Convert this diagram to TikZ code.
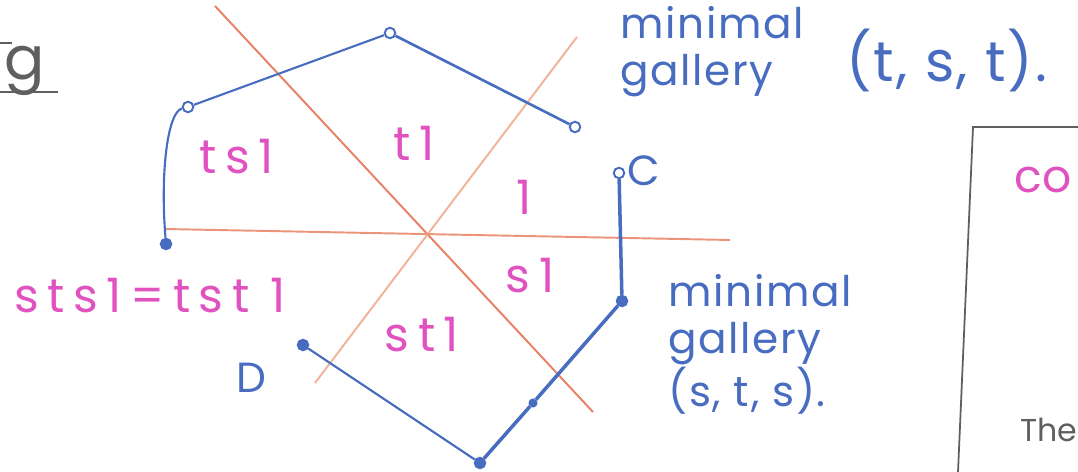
\documentclass[tikz,border=0pt]{standalone}
\usepackage{fontspec}
\setmainfont{Poppins}
\newfontfamily\roomfont[LetterSpace=18]{Poppins}
\newfontfamily\galfont[LetterSpace=4]{Poppins}
\usetikzlibrary{positioning}
\definecolor{wallor}{RGB}{232,128,100}
\definecolor{wallpe}{RGB}{243,178,150}
\definecolor{galblue}{RGB}{72,108,192}
\definecolor{roomcol}{RGB}{224,82,192}
\definecolor{pencil}{RGB}{95,95,95}

\begin{document}
\begin{tikzpicture}[x=0.02cm,y=-0.02cm,
  wall/.style={line width=1.1pt},
  gal/.style={draw=galblue,line width=1.2pt},
  vtx/.style={circle,draw=galblue,line width=1.1pt,fill=white,inner sep=0pt,minimum size=6pt},
  vtxf/.style={vtx,fill=galblue},
  room/.style={text=roomcol,font=\roomfont\fontsize{27}{29}\selectfont},
  note/.style={text=galblue,font=\galfont\fontsize{24}{27}\selectfont,align=left}]
  \clip (0,0) rectangle (1078,472);
  % walls of the Coxeter complex
  \coordinate (wa) at (215,6);
  \coordinate (wb) at (593,412);
  \coordinate (wc) at (577,37);
  \coordinate (wd) at (315,383);
  \coordinate (we) at (165,229);
  \coordinate (wf) at (730,240);
  \draw[wall,wallor] (wa) -- (wb);
  \draw[wall,wallpe] (wc) -- (wd);
  \draw[wall,wallor!85] (we) -- (wf);
  % chambers
  \node[room] (ts) at (237,157) {ts1};
  \node[room] (t1) at (414,143) {t1};
  \node[room] (one) at (524,197) {1};
  \node[room] (s1) at (530,276) {s1};
  \node[room] (st1) at (422,335) {st1};
  \node[room,anchor=west] (eq) at (8,296) {sts1=tst 1};
  % gallery (t,s,t)
  \node[vtxf] (p0) at (166,244) {};
  \node[vtx] (p1) at (188,107) {};
  \node[vtx] (p2) at (390,33) {};
  \node[vtx] (p3) at (575,127) {};
  \draw[gal] (p0) .. controls (160,170) and (168,112) .. (p1);
  \draw[gal] (p1) -- (p2);
  \draw[gal,line width=1.5pt] (p2) -- (p3);
  % gallery (s,t,s)
  \node[vtx] (c) at (619,173) {};
  \node[vtxf] (k) at (622,301) {};
  \node[vtxf,minimum size=4pt] (m) at (533,403) {};
  \node[vtxf] (e) at (480,463) {};
  \node[vtxf] (d) at (303,345) {};
  \draw[gal,line width=2pt] (c) -- (k) -- (m) -- (e);
  \draw[gal] (d) -- (e);
  \node[note] (C) at (644,171) {C};
  \node[note] (D) at (251,378) {D};
  % notes
  \node[note,anchor=north west] (ntop) at (614,0) {minimal\\gallery};
  \node[note,anchor=west,font=\galfont\fontsize{32}{34}\selectfont] (ptop) at (840,60) {(t, s, t).};
  \node[note,anchor=north west] (nbot) at (662,268) {minimal\\gallery\\(s, t, s).};
  % page bits
  \node[text=pencil,font=\fontsize{34}{34}\selectfont] (g) at (25,71) {g};
  \draw[pencil,line width=1pt] (0,92) -- (58,92);
  \draw[pencil,line width=1pt] (0,43) -- (12,43);
  \coordinate (bx0) at (958,472);
  \coordinate (bx1) at (973,127);
  \coordinate (bx2) at (1078,127);
  \draw[pencil,line width=1pt] (bx0) -- (bx1) -- (bx2);
  \node[text=roomcol,font=\fontsize{26}{28}\selectfont,inner sep=0pt,anchor=west] (con) at (1014,180) {co};
  \node[text=pencil,font=\fontsize{18}{20}\selectfont,inner sep=0pt,anchor=west] (the) at (1020,430) {The};
\end{tikzpicture}
\end{document}
